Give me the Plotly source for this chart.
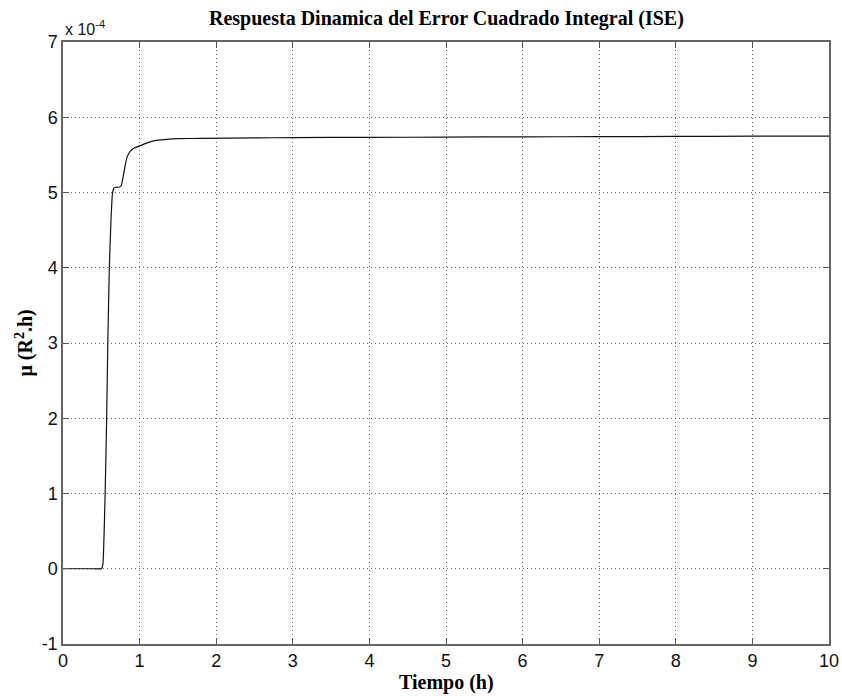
import plotly.graph_objects as go

# Time (h)
t = [0, 0.2, 0.4, 0.5, 0.52, 0.55, 0.57, 0.585, 0.605, 0.625, 0.645, 0.665, 0.69, 0.73, 0.76,
     0.78, 0.81, 0.84, 0.88, 0.93, 1.0, 1.1, 1.2, 1.35, 1.5, 1.8, 2.5, 3.0, 4.0, 5.0, 6.0, 7.0, 8.0, 9.0, 10.0]
# ISE in units of 1e-4
ise = [0, 0, 0, 0, 0.05, 1.0, 2.0, 3.0, 4.0, 4.6, 4.98, 5.06, 5.07, 5.07, 5.09,
       5.18, 5.35, 5.48, 5.55, 5.59, 5.62, 5.66, 5.69, 5.705, 5.715, 5.72, 5.725, 5.73, 5.733, 5.736, 5.74, 5.742, 5.745, 5.748, 5.75]

xticks = list(range(0, 11))
yticks = list(range(-1, 8))

fig = go.Figure()
fig.add_trace(go.Scatter(x=t, y=ise, mode="lines", line=dict(color="#111", width=1.2, shape="spline", smoothing=0.4),
                         showlegend=False, hoverinfo="skip"))

axcommon = dict(showgrid=True, gridcolor="#666", griddash="1px,3px", gridwidth=1,
                showline=True, linecolor="#666", linewidth=1.5, mirror="ticks",
                ticks="inside", ticklen=6, tickcolor="#555", zeroline=False, automargin=False,
                tickfont=dict(family="Liberation Sans, Arial", size=18, color="#111"))

fig.update_xaxes(range=[0, 10], tickvals=xticks, ticktext=[str(v) for v in xticks],
                 ticklabeloverflow="allow", **axcommon)
fig.update_yaxes(range=[-1, 7], tickvals=yticks, ticktext=[str(v) for v in yticks], **axcommon)

fig.update_layout(
    width=842, height=696,
    margin=dict(l=63, r=13, t=42, b=52),
    plot_bgcolor="white", paper_bgcolor="white",
    annotations=[
        dict(text="<b>Respuesta Dinamica del Error Cuadrado Integral (ISE)</b>", x=0.5, y=1, xref="paper", yref="paper",
             yanchor="bottom", yshift=10, showarrow=False, font=dict(family="Liberation Serif, Times New Roman", size=20, color="#000")),
        dict(text="x 10<sup>-4</sup>", x=0, y=1, xref="paper", yref="paper", xanchor="left", yanchor="bottom",
             xshift=0, yshift=2, showarrow=False, font=dict(family="Liberation Sans, Arial", size=16, color="#111")),
        dict(text="<b>Tiempo (h)</b>", x=0.5, y=0, xref="paper", yref="paper", yanchor="top", yshift=-25,
             showarrow=False, font=dict(family="Liberation Serif, Times New Roman", size=20, color="#000")),
        dict(text="<b>μ (R<sup>2</sup>.h)</b>", x=0, y=0.5, xref="paper", yref="paper", xanchor="right", xshift=-25,
             textangle=-90, showarrow=False, font=dict(family="Liberation Serif, Times New Roman", size=20, color="#000")),
    ],
)

fig.write_html("out.html")
